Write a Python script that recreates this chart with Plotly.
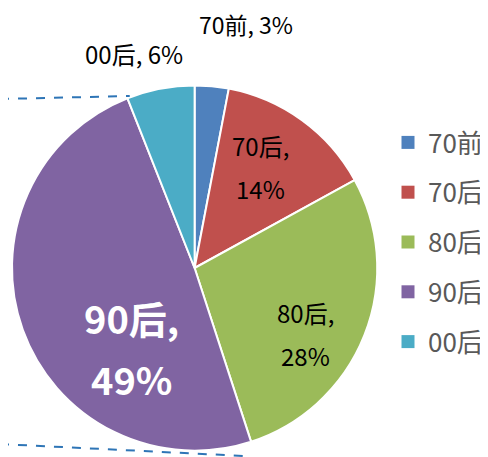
import plotly.graph_objects as go

labels = ["70前", "70后", "80后", "90后", "00后"]
shares = [3, 14, 28, 49, 6]
colors = ["#4F81BD", "#C0504D", "#9BBB59", "#8064A2", "#4BACC6"]

# the page body adds an 8px margin, so the figure is 8px smaller and
# every pixel position below is taken from the 488x457 window minus 8
OFF = 8
W, H = 488 - OFF, 457 - OFF
FONT = "Noto Sans CJK SC"

cx, cy, r = 195 - OFF, 268 - OFF, 183


def px(x, y):
    return (x - OFF) / W, 1 - (y - OFF) / H


fig = go.Figure()
fig.add_trace(go.Pie(
    labels=labels,
    values=shares,
    sort=False,
    direction="clockwise",
    rotation=0,
    marker=dict(colors=colors, line=dict(color="white", width=2)),
    textinfo="none",
    hoverinfo="label+percent",
    showlegend=False,
    domain=dict(x=[(cx - r) / W, (cx + r) / W],
                y=[(H - cy - r) / H, (H - cy + r) / H]),
))

# legend entries as dummy markers so the spacing can be opened up
for lab, col in zip(labels, colors):
    fig.add_trace(go.Scatter(
        x=[None], y=[None], mode="markers", name=lab, legendgroup=lab,
        marker=dict(symbol="square", size=13, color=col),
    ))

annos = []


def label(x, y, text, size, color):
    ax, ay = px(x, y)
    annos.append(dict(x=ax, y=ay, text=text, showarrow=False, xref="paper", yref="paper",
                      xanchor="center", yanchor="middle",
                      font=dict(size=size, color=color, family=FONT)))


# outside labels: one line
label(246, 24, f"{labels[0]}, {shares[0]}%", 23, "#000000")
label(134, 53, f"{labels[4]}, {shares[4]}%", 24, "#000000")
# inside labels: two lines, wide spacing
label(261, 145, f"{labels[1]},", 24, "#000000")
label(261, 188, f"{shares[1]}%", 24, "#000000")
label(306, 312, f"{labels[2]},", 24, "#000000")
label(306, 355, f"{shares[2]}%", 24, "#000000")
label(132, 317, f"<b>{labels[3]},</b>", 38, "#FFFFFF")
label(132, 378, f"<b>{shares[3]}%</b>", 38, "#FFFFFF")

dash = dict(color="#2E75B6", width=2, dash="dash")
x0, y0 = px(0, 99)
x1, y1 = px(130, 96)
x2, y2 = px(0, 444)
x3, y3 = px(245, 456)
shapes = [
    dict(type="line", xref="paper", yref="paper", x0=x0, y0=y0, x1=x1, y1=y1, line=dash),
    dict(type="line", xref="paper", yref="paper", x0=x2, y0=y2, x1=x3, y1=y3, line=dash),
]

lx, ly = px(389, 119)
fig.update_layout(
    width=W, height=H,
    margin=dict(l=0, r=0, t=0, b=0),
    paper_bgcolor="white", plot_bgcolor="white",
    font=dict(family=FONT),
    xaxis=dict(visible=False), yaxis=dict(visible=False),
    annotations=annos,
    shapes=shapes,
    legend=dict(
        x=lx, y=ly, xanchor="left", yanchor="top",
        font=dict(size=26, color="#595959", family=FONT),
        tracegroupgap=13, bgcolor="rgba(0,0,0,0)",
    ),
)

fig.write_html("out.html")
